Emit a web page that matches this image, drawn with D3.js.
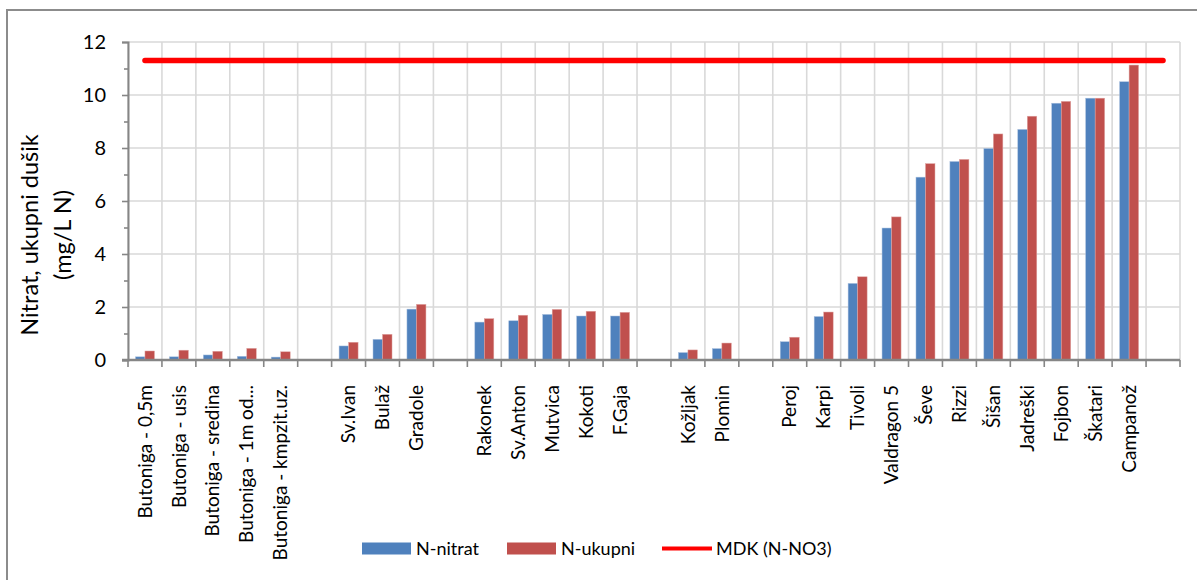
<!DOCTYPE html>
<html><head><meta charset="utf-8">
<script src="https://cdn.jsdelivr.net/npm/d3@7"></script>
<style>
html,body{margin:0;padding:0;background:#fff;}
svg text{font-family:Lato,"Open Sans",sans-serif;fill:#000;}
</style></head>
<body><svg id="chart" width="1197" height="580"></svg>
<script>
const categories = ["Butoniga - 0,5m","Butoniga - usis","Butoniga - sredina","Butoniga - 1m od...","Butoniga - kmpzit.uz.","",
  "Sv.Ivan","Bulaž","Gradole","","Rakonek","Sv.Anton","Mutvica","Kokoti","F.Gaja","",
  "Kožljak","Plomin","","Peroj","Karpi","Tivoli","Valdragon 5","Ševe","Rizzi","Šišan","Jadreški","Fojbon","Škatari","Campanož",""];
const nitrat = [0.12,0.12,0.19,0.14,0.11,null,0.53,0.78,1.92,null,1.43,1.48,1.72,1.66,1.66,null,0.28,0.43,null,0.69,1.64,2.89,4.98,6.90,7.49,7.98,8.70,9.69,9.88,10.50,null];
const ukupni = [0.34,0.37,0.33,0.44,0.31,null,0.67,0.97,2.10,null,1.56,1.69,1.91,1.84,1.80,null,0.38,0.64,null,0.86,1.81,3.14,5.40,7.41,7.57,8.53,9.20,9.76,9.88,11.13,null];
const mdk = categories.map(() => 11.3);
const yTicks = [0,2,4,6,8,10,12];
const yMinorTicks = [1,3,5,7,9,11];
const seriesNames = ["N-nitrat","N-ukupni","MDK (N-NO3)"];
const colors = {nitrat:"#4F81BD", ukupni:"#C0504D", mdk:"#FF0000"};

const svg = d3.select("#chart");
// outer border
svg.append("rect").attr("x",7).attr("y",10).attr("width",1210).attr("height",600)
  .attr("fill","none").attr("stroke","#8c8c8c").attr("stroke-width",2);

const L = 128, R = 1180, T = 42, B = 360;
const idx = d3.range(categories.length);
const x = d3.scaleBand().domain(idx).range([L,R]).padding(0);
const y = d3.scaleLinear().domain([0,12]).range([B,T]);
const bw = 9.5;

// gridlines
const grid = svg.append("g");
grid.selectAll("line.h").data(yTicks.filter(d=>d>0)).join("line")
  .attr("x1",L).attr("x2",R).attr("y1",d=>y(d)).attr("y2",d=>y(d))
  .attr("stroke","#d9d9d9").attr("stroke-width",1.6);
grid.selectAll("line.v").data(d3.range(categories.length+1)).join("line")
  .attr("x1",d=>L + d*x.step()).attr("x2",d=>L + d*x.step()).attr("y1",T).attr("y2",B)
  .attr("stroke","#d9d9d9").attr("stroke-width",1.6);

// bars
svg.append("g").selectAll("rect").data(idx.filter(i=>nitrat[i]!=null)).join("rect")
  .attr("x",i=>x(i)+x.bandwidth()/2-bw).attr("width",bw)
  .attr("y",i=>y(nitrat[i])).attr("height",i=>y(0)-y(nitrat[i]))
  .attr("fill",colors.nitrat).attr("stroke","#a9c0de").attr("stroke-width",0.5);
svg.append("g").selectAll("rect").data(idx.filter(i=>ukupni[i]!=null)).join("rect")
  .attr("x",i=>x(i)+x.bandwidth()/2).attr("width",bw)
  .attr("y",i=>y(ukupni[i])).attr("height",i=>y(0)-y(ukupni[i]))
  .attr("fill",colors.ukupni).attr("stroke","#e0a8a6").attr("stroke-width",0.5);

// axes
const axisColor = "#868686";
const yAxis = svg.append("g").attr("transform",`translate(${L},0)`)
  .call(d3.axisLeft(y).tickValues(yTicks).tickSize(6).tickPadding(16).tickFormat(d3.format("d")));
yAxis.select(".domain").attr("stroke",axisColor).attr("stroke-width",2);
yAxis.selectAll(".tick line").attr("stroke",axisColor).attr("stroke-width",1.6);
yAxis.selectAll(".tick text").style("font-size","20px").style("font-family","Lato");
svg.append("g").attr("transform",`translate(${L},0)`)
  .call(d3.axisLeft(y).tickValues(yMinorTicks).tickSize(4).tickFormat(""))
  .call(g=>{g.select(".domain").remove(); g.selectAll(".tick line").attr("stroke",axisColor).attr("stroke-width",1.6);});

const xAxisG = svg.append("g").attr("transform",`translate(0,${B})`);
xAxisG.append("line").attr("x1",L-6).attr("x2",R).attr("y1",0).attr("y2",0)
  .attr("stroke",axisColor).attr("stroke-width",2.4);
xAxisG.selectAll("line.t").data(d3.range(categories.length+1)).join("line")
  .attr("x1",d=>L + d*x.step()).attr("x2",d=>L + d*x.step()).attr("y1",0).attr("y2",7)
  .attr("stroke",axisColor).attr("stroke-width",1.6);
xAxisG.selectAll("text").data(idx).join("text")
  .attr("transform",i=>`translate(${x(i)+x.bandwidth()/2},25) rotate(-90)`)
  .attr("text-anchor","end").attr("dy","0.35em")
  .style("font-size","19px")
  .text(i=>categories[i]);

// MDK line
const line = d3.line().x((d,i)=>x(i)+x.bandwidth()/2).y(d=>y(d));
svg.append("path").datum(mdk).attr("d",line).attr("fill","none")
  .attr("stroke",colors.mdk).attr("stroke-width",5.5).attr("stroke-linecap","round");

// y title
const yt = svg.append("text").attr("transform","translate(0,235) rotate(-90)")
  .attr("text-anchor","middle").style("font-size","23.5px");
yt.append("tspan").attr("x",0).attr("y",38).text("Nitrat, ukupni dušik");
yt.append("tspan").attr("x",0).attr("y",71).text("(mg/L N)");

// legend
const lg = svg.append("g");
lg.append("rect").attr("x",362).attr("y",542.5).attr("width",49).attr("height",12).attr("fill",colors.nitrat);
lg.append("text").attr("x",416).attr("y",548.5).attr("dy","0.35em").style("font-size","18px").text(seriesNames[0]);
lg.append("rect").attr("x",507).attr("y",542.5).attr("width",49).attr("height",12).attr("fill",colors.ukupni);
lg.append("text").attr("x",561).attr("y",548.5).attr("dy","0.35em").style("font-size","18px").text(seriesNames[1]);
lg.append("line").attr("x1",662).attr("x2",712).attr("y1",548.5).attr("y2",548.5)
  .attr("stroke",colors.mdk).attr("stroke-width",4);
lg.append("text").attr("x",716).attr("y",548.5).attr("dy","0.35em").style("font-size","18px").text(seriesNames[2]);
</script></body></html>
